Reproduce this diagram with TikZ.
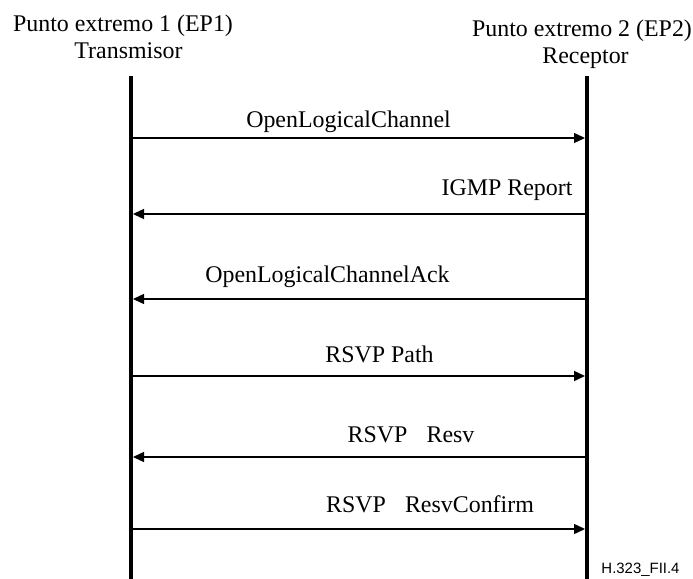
\documentclass[tikz,border=0pt]{standalone}
\usepackage{fontspec}
\setmainfont{Liberation Serif}
\newfontfamily\labelsans{Liberation Sans}
\usetikzlibrary{arrows.meta}
\begin{document}
\begin{tikzpicture}[x=1bp,y=-1bp,
  lifeline/.style={line width=3.6bp},
  msg/.style={line width=1.4bp,-{Triangle[length=11bp,width=10bp]},shorten >=2bp},
  lbl/.style={font=\fontsize{24}{28}\selectfont,inner sep=0pt,anchor=base},
  hdr/.style={font=\fontsize{24}{28}\selectfont,inner sep=0pt,anchor=base}]
\useasboundingbox (0,0) rectangle (693,579);
% headers
\node[hdr] (ep1) at (123,32) {Punto extremo 1 (EP1)};
\node[hdr] (tx) at (128.5,59) {Transmisor};
\node[hdr] (ep2) at (582,37) {Punto extremo 2 (EP2)};
\node[hdr] (rx) at (585.5,64) {Receptor};
% lifelines
\coordinate (Ltop) at (131,76);
\coordinate (Lbot) at (131,579);
\coordinate (Rtop) at (587,76);
\coordinate (Rbot) at (587,579);
\draw[lifeline] (Ltop) -- (Lbot);
\draw[lifeline] (Rtop) -- (Rbot);
% message endpoints
\foreach \n/\y in {1/138,2/214,3/299,4/376,5/457,6/529}{
  \coordinate (L\n) at (131,\y);
  \coordinate (R\n) at (587,\y);
}
\draw[msg] (L1) -- (R1);
\draw[msg] (R2) -- (L2);
\draw[msg] (R3) -- (L3);
\draw[msg] (L4) -- (R4);
\draw[msg] (R5) -- (L5);
\draw[msg] (L6) -- (R6);
% labels
\node[lbl] (m1) at (348.5,128) {OpenLogicalChannel};
\node[lbl] (m2) at (507,196) {IGMP Report};
\node[lbl] (m3) at (327.5,282) {OpenLogicalChannelAck};
\node[lbl] (m4) at (379.5,362) {RSVP Path};
\node[lbl] (m5) at (411,442) {RSVP\hspace{0.8em}Resv};
\node[lbl] (m6) at (430,512) {RSVP\hspace{0.8em}ResvConfirm};
\node[font=\labelsans\fontsize{15}{18}\selectfont,inner sep=0pt,anchor=base] (fig) at (640.5,573) {H.323\_FII.4};
\end{tikzpicture}
\end{document}
